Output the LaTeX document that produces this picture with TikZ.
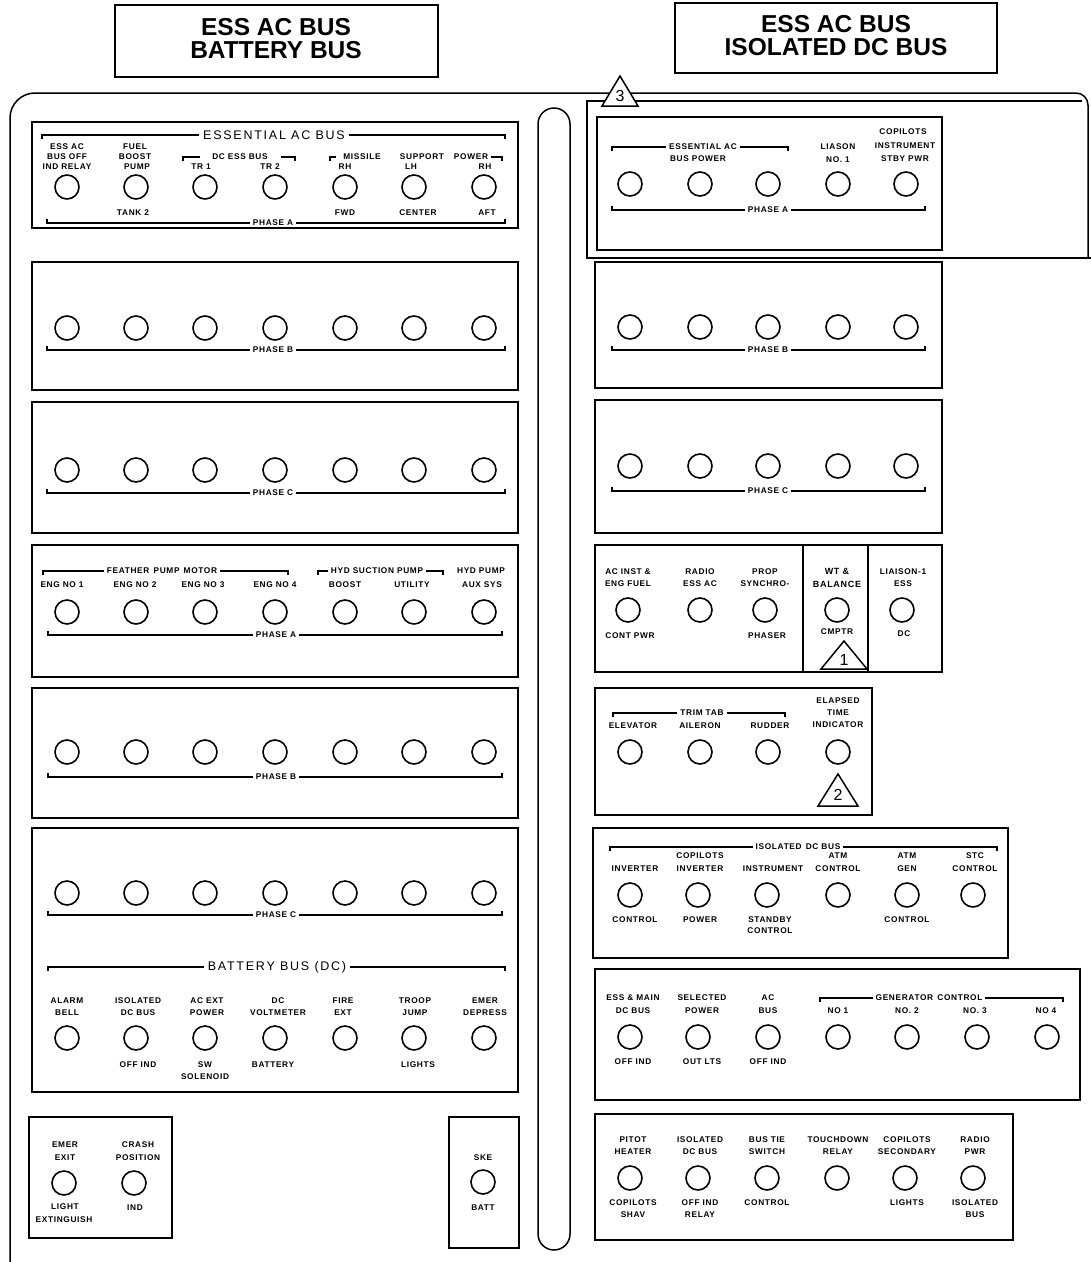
\documentclass[tikz,border=0pt]{standalone}
\usepackage{fontspec}
\setmainfont{Liberation Sans}
\newfontfamily\lblfont[LetterSpace=8]{Liberation Sans}
\newfontfamily\hdfont[LetterSpace=14]{Liberation Sans}
\newcounter{nn}
\newcommand\lamp[2]{\node[lamp] at (#1,#2) {};}
\newcommand\lb[3]{\node[lbl] at (#1,#2) {#3};}
\newcommand\tbr[6][brtxt]{\draw[brline] (#2,#4+4) -- (#2,#4) -- (#3,#4) -- (#3,#4+4); \node[#1] at (#5,#4) {#6};}
\newcommand\bbr[5]{\draw[brline] (#1,#3-4) -- (#1,#3) -- (#2,#3) -- (#2,#3-4); \node[brtxt] at (#4,#3) {#5};}
\begin{document}
\begin{tikzpicture}[x=1pt,y=-1pt,
 autoname/.code={\stepcounter{nn}\pgfkeysalso{/tikz/name/.expanded=n\arabic{nn}}},
 lbl/.style={autoname,font=\lblfont\bfseries\fontsize{8.3}{9}\selectfont,inner sep=0pt},
 brtxt/.style={lbl,fill=white,inner xsep=3pt,inner ysep=1pt},
 hd/.style={autoname,font=\hdfont\fontsize{12.5}{14}\selectfont,fill=white,inner xsep=4pt,inner ysep=1pt},
 lamp/.style={autoname,circle,draw,line width=1.6pt,minimum size=24pt,inner sep=0pt},
 panel/.style={draw,line width=1.3pt},
 brline/.style={line width=1.2pt},
 frame/.style={line width=1.5pt},
 title/.style={autoname,font=\bfseries\fontsize{24.5}{23}\selectfont,align=center},
 num/.style={autoname,font=\fontsize{16}{16}\selectfont,inner sep=0pt}]
\fill[white] (0,0) rectangle (1091,1262);
\useasboundingbox (0,0) rectangle (1091,1262);

% title boxes
\draw[panel] (115,5) rectangle (438,77);
\node[title] at (276,39) {ESS AC BUS\\BATTERY BUS};
\draw[panel] (675,3) rectangle (997,73);
\node[title] at (836,36) {ESS AC BUS\\ISOLATED DC BUS};

% outer frame
\draw[frame,rounded corners=25pt] (10,1262) -- (10,93) -- (609.8,93);
\draw[frame,rounded corners=12pt] (630.2,93) -- (1088,93) -- (1088,258);
\draw[frame] (605,101) -- (587,101) -- (587,258) -- (1091,258);
\draw[frame] (635,101) -- (1082,101);
\draw[frame] (620,76) -- (638,106) -- (602,106) -- cycle;
\node[num] at (620,96) {3};

% centre bar
\draw[frame,rounded corners=16pt] (538,108) rectangle (570,1250);

% ===== LEFT PANELS =====
% panel 1
\draw[panel] (32,122) rectangle (518,228);
\tbr[hd]{42}{505}{135}{274}{ESSENTIAL AC BUS}
\lb{67}{147}{ESS AC}\lb{67}{157}{BUS OFF}\lb{67}{167}{IND RELAY}
\lb{135}{147}{FUEL}\lb{135}{157}{BOOST}\lb{137}{167}{PUMP}
\draw[brline] (183,161) -- (183,157) -- (200,157);
\draw[brline] (281,157) -- (295,157) -- (295,161);
\lb{240}{157}{DC ESS BUS}
\lb{201}{167}{TR 1}\lb{270}{167}{TR 2}
\draw[brline] (330,161) -- (330,157) -- (336,157);
\draw[brline] (491,157) -- (502,157) -- (502,161);
\lb{362}{157}{MISSILE}\lb{422}{157}{SUPPORT}\lb{471}{157}{POWER}
\lb{345}{167}{RH}\lb{411}{167}{LH}\lb{485}{167}{RH}
\foreach \x in {67,136,205,275,345,414,484} \lamp{\x}{187};
\lb{133}{213}{TANK 2}\lb{345}{213}{FWD}\lb{418}{213}{CENTER}\lb{487}{213}{AFT}
\bbr{47}{505}{223}{273}{PHASE A}

% panel 2
\draw[panel] (32,262) rectangle (518,390);
\foreach \x in {67,136,205,275,345,414,484} \lamp{\x}{328};
\bbr{47}{505}{350}{273}{PHASE B}

% panel 3
\draw[panel] (32,402) rectangle (518,533);
\foreach \x in {67,136,205,275,345,414,484} \lamp{\x}{470};
\bbr{47}{505}{493}{273}{PHASE C}

% panel 4
\draw[panel] (32,545) rectangle (518,677);
\tbr{43}{288}{571}{162}{FEATHER\enspace PUMP\enspace MOTOR}
\tbr{318}{443}{571}{377}{HYD SUCTION PUMP}
\lb{481}{571}{HYD PUMP}
\lb{62}{585}{ENG NO 1}\lb{135}{585}{ENG NO 2}\lb{203}{585}{ENG NO 3}\lb{275}{585}{ENG NO 4}
\lb{345}{585}{BOOST}\lb{412}{585}{UTILITY}\lb{482}{585}{AUX SYS}
\foreach \x in {67,136,205,275,345,414,484} \lamp{\x}{612};
\bbr{48}{502}{635}{276}{PHASE A}

% panel 5
\draw[panel] (32,688) rectangle (518,818);
\foreach \x in {67,136,205,275,345,414,484} \lamp{\x}{752};
\bbr{48}{502}{777}{276}{PHASE B}

% panel 6
\draw[panel] (32,828) rectangle (518,1092);
\foreach \x in {67,136,205,275,345,414,484} \lamp{\x}{893};
\bbr{48}{502}{915}{276}{PHASE C}
\tbr[hd]{48}{505}{967}{277}{BATTERY BUS (DC)}
\lb{67}{1001}{ALARM}\lb{138}{1001}{ISOLATED}\lb{207}{1001}{AC EXT}\lb{278}{1001}{DC}
\lb{343}{1001}{FIRE}\lb{415}{1001}{TROOP}\lb{485}{1001}{EMER}
\lb{67}{1013}{BELL}\lb{138}{1013}{DC BUS}\lb{207}{1013}{POWER}\lb{278}{1013}{VOLTMETER}
\lb{343}{1013}{EXT}\lb{415}{1013}{JUMP}\lb{485}{1013}{DEPRESS}
\foreach \x in {67,136,205,275,345,414,484} \lamp{\x}{1038};
\lb{138}{1065}{OFF IND}\lb{205}{1065}{SW}\lb{273}{1065}{BATTERY}\lb{418}{1065}{LIGHTS}
\lb{205}{1077}{SOLENOID}

% bottom-left box
\draw[panel] (29,1117) rectangle (172,1238);
\lb{65}{1145}{EMER}\lb{65}{1158}{EXIT}
\lb{138}{1145}{CRASH}\lb{138}{1158}{POSITION}
\lamp{64}{1183}\lamp{134}{1183}
\lb{65}{1207}{LIGHT}\lb{64}{1220}{EXTINGUISH}\lb{135}{1208}{IND}

% SKE box
\draw[panel] (449,1117) rectangle (519,1248);
\lb{483}{1158}{SKE}
\lamp{483}{1182}
\lb{483}{1208}{BATT}

% ===== RIGHT PANELS =====
% RP1
\draw[panel] (597,117) rectangle (942,250);
\lb{903}{132}{COPILOTS}\lb{905}{146}{INSTRUMENT}\lb{905}{159}{STBY PWR}
\tbr{612}{788}{147}{703}{ESSENTIAL AC}
\lb{698}{159}{BUS POWER}
\lb{838}{147}{LIASON}\lb{838}{160}{NO. 1}
\foreach \x in {630,700,768,838,906} \lamp{\x}{184};
\bbr{612}{925}{210}{768}{PHASE A}

% RP2
\draw[panel] (595,262) rectangle (942,388);
\foreach \x in {630,700,768,838,906} \lamp{\x}{327};
\bbr{612}{925}{350}{768}{PHASE B}

% RP3
\draw[panel] (595,400) rectangle (942,533);
\foreach \x in {630,700,768,838,906} \lamp{\x}{466};
\bbr{612}{925}{491}{768}{PHASE C}

% RP4
\draw[panel] (595,545) rectangle (942,672);
\draw[panel] (803,545) -- (803,672);
\draw[panel] (868,545) -- (868,672);
\lb{628}{572}{AC INST \&}\lb{628}{584}{ENG FUEL}\lb{630}{636}{CONT PWR}
\lb{700}{572}{RADIO}\lb{700}{584}{ESS AC}
\lb{765}{572}{PROP}\lb{765}{584}{SYNCHRO-}\lb{767}{636}{PHASER}
\node[lbl,font=\lblfont\bfseries\fontsize{9}{9}\selectfont] at (837,571) {WT \&};
\node[lbl,font=\lblfont\bfseries\fontsize{9}{9}\selectfont] at (837,584) {BALANCE};
\lb{837}{632}{CMPTR}
\lb{903}{572}{LIAISON-1}\lb{903}{584}{ESS}\lb{904}{634}{DC}
\foreach \x in {628,700,765,837,902} \lamp{\x}{610};
\draw[frame] (844,641) -- (867,669) -- (821,669) -- cycle;
\node[num] at (844,660) {1};

% RP5
\draw[panel] (595,688) rectangle (872,815);
\tbr{613}{785}{713}{702}{TRIM TAB}
\lb{633}{726}{ELEVATOR}\lb{700}{726}{AILERON}\lb{770}{726}{RUDDER}
\lb{838}{701}{ELAPSED}\lb{838}{713}{TIME}\lb{838}{725}{INDICATOR}
\foreach \x in {630,700,768,838} \lamp{\x}{752};
\draw[frame] (838,774) -- (858,806) -- (818,806) -- cycle;
\node[num] at (838,795) {2};

% RP6
\draw[panel] (593,828) rectangle (1008,958);
\tbr{610}{997}{847}{798}{ISOLATED\enspace DC BUS}
\lb{700}{856}{COPILOTS}\lb{838}{856}{ATM}\lb{907}{856}{ATM}\lb{975}{856}{STC}
\lb{635}{869}{INVERTER}\lb{700}{869}{INVERTER}\lb{773}{869}{INSTRUMENT}
\lb{838}{869}{CONTROL}\lb{907}{869}{GEN}\lb{975}{869}{CONTROL}
\foreach \x in {630,698,767,838,907,973} \lamp{\x}{895};
\lb{635}{920}{CONTROL}\lb{700}{920}{POWER}\lb{770}{920}{STANDBY}\lb{770}{931}{CONTROL}
\lb{907}{920}{CONTROL}

% RP7
\draw[panel] (595,969) rectangle (1080,1100);
\tbr{820}{1063}{998}{929}{GENERATOR\enspace CONTROL}
\lb{633}{998}{ESS \& MAIN}\lb{702}{998}{SELECTED}\lb{768}{998}{AC}
\lb{633}{1011}{DC BUS}\lb{702}{1011}{POWER}\lb{768}{1011}{BUS}
\lb{838}{1011}{NO 1}\lb{907}{1011}{NO. 2}\lb{975}{1011}{NO. 3}\lb{1046}{1011}{NO 4}
\foreach \x in {630,698,768,838,907,977,1047} \lamp{\x}{1037};
\lb{633}{1062}{OFF IND}\lb{702}{1062}{OUT LTS}\lb{768}{1062}{OFF IND}

% RP8
\draw[panel] (595,1114) rectangle (1013,1240);
\lb{633}{1140}{PITOT}\lb{700}{1140}{ISOLATED}\lb{767}{1140}{BUS TIE}
\lb{838}{1140}{TOUCHDOWN}\lb{907}{1140}{COPILOTS}\lb{975}{1140}{RADIO}
\lb{633}{1152}{HEATER}\lb{700}{1152}{DC BUS}\lb{767}{1152}{SWITCH}
\lb{838}{1152}{RELAY}\lb{907}{1152}{SECONDARY}\lb{975}{1152}{PWR}
\foreach \x in {630,698,767,837,905,973} \lamp{\x}{1178};
\lb{633}{1203}{COPILOTS}\lb{700}{1203}{OFF IND}\lb{767}{1203}{CONTROL}
\lb{907}{1203}{LIGHTS}\lb{975}{1203}{ISOLATED}
\lb{633}{1215}{SHAV}\lb{700}{1215}{RELAY}\lb{975}{1215}{BUS}
\end{tikzpicture}
\end{document}
